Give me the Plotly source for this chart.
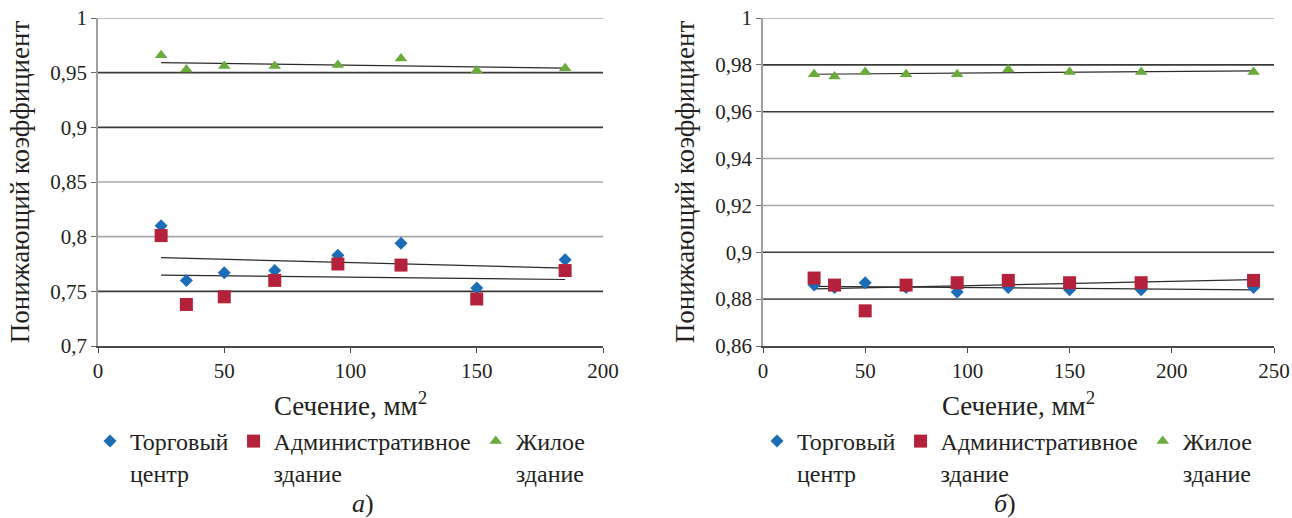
import numpy as np
import plotly.graph_objects as go

# ---------------- data ----------------
sections_a = [25, 35, 50, 70, 95, 120, 150, 185]
trade_a = [0.810, 0.760, 0.767, 0.769, 0.783, 0.794, 0.753, 0.779]
admin_a = [0.801, 0.738, 0.745, 0.760, 0.775, 0.774, 0.743, 0.769]
living_a = [0.966, 0.953, 0.956, 0.956, 0.957, 0.963, 0.952, 0.954]

sections_b = [25, 35, 50, 70, 95, 120, 150, 185, 240]
trade_b = [0.886, 0.885, 0.887, 0.885, 0.883, 0.885, 0.884, 0.884, 0.885]
admin_b = [0.889, 0.886, 0.875, 0.886, 0.887, 0.888, 0.887, 0.887, 0.888]
living_b = [0.976, 0.975, 0.977, 0.976, 0.976, 0.978, 0.977, 0.977, 0.977]

series_names = ["Торговый<br>центр", "Административное<br>здание", "Жилое<br>здание"]

yticks_a = [0.7, 0.75, 0.8, 0.85, 0.9, 0.95, 1.0]
yticklabels_a = ["0,7", "0,75", "0,8", "0,85", "0,9", "0,95", "1"]
yticks_b = [0.86, 0.88, 0.9, 0.92, 0.94, 0.96, 0.98, 1.0]
yticklabels_b = ["0,86", "0,88", "0,9", "0,92", "0,94", "0,96", "0,98", "1"]
xticks_a = [0, 50, 100, 150, 200]
xticks_b = [0, 50, 100, 150, 200, 250]

x_title = "Сечение, мм<sup>2</sup>"
y_title = "Понижающий коэффициент"
panel_labels = ["<i>а</i>)", "<i>б</i>)"]

# ---------------- styles ----------------
FONT = "Liberation Serif"
TXT = "#231f20"
marker_styles = [
    dict(symbol="diamond", color="#1b6db5", size=10),
    dict(symbol="square", color="#b4213b", size=13),
    dict(symbol="triangle-up", color="#6aab3b", size=11),
]
DARK_GRID = "#3a3a3a"
LIGHT_GRID = "#a8a8a8"
grid_a_colors = [None, DARK_GRID, LIGHT_GRID, LIGHT_GRID, DARK_GRID, DARK_GRID, LIGHT_GRID]
grid_b_colors = [None, "#5a5a5a", DARK_GRID, LIGHT_GRID, LIGHT_GRID, DARK_GRID, DARK_GRID, LIGHT_GRID]

W, H = 1292, 518
def px_x(p):
    return p / W
def px_y(p):
    return 1 - p / H

fig = go.Figure()

panels = [
    dict(xs=sections_a, ys=[trade_a, admin_a, living_a], xa="x", ya="y", legend="legend"),
    dict(xs=sections_b, ys=[trade_b, admin_b, living_b], xa="x2", ya="y2", legend="legend2"),
]

for p in panels:
    xs = np.array(p["xs"], dtype=float)
    for ys in p["ys"]:
        k, b = np.polyfit(xs, np.array(ys), 1)
        xline = [xs.min(), xs.max()]
        fig.add_trace(go.Scatter(
            x=xline, y=[k * v + b for v in xline], mode="lines",
            line=dict(color="#2b2b2b", width=1.2),
            xaxis=p["xa"], yaxis=p["ya"], showlegend=False, hoverinfo="skip"))
    for name, ys, ms in zip(series_names, p["ys"], marker_styles):
        fig.add_trace(go.Scatter(
            x=p["xs"], y=ys, mode="markers", name=name,
            marker=dict(symbol=ms["symbol"], color=ms["color"], size=ms["size"], line=dict(width=0)),
            xaxis=p["xa"], yaxis=p["ya"], legend=p["legend"]))

shapes = []
for ref, ticks, colors in [("y", yticks_a, grid_a_colors), ("y2", yticks_b, grid_b_colors)]:
    xref = "x domain" if ref == "y" else "x2 domain"
    for t, c in zip(ticks, colors):
        if c is None:
            continue
        shapes.append(dict(type="line", xref=xref, yref=ref, x0=0, x1=1, y0=t, y1=t,
                           line=dict(color=c, width=1.6), layer="below"))

axis_common = dict(
    showgrid=False, zeroline=False, showline=True, ticks="outside", ticklen=5,
    automargin=False, ticklabeloverflow="allow",
    tickfont=dict(family=FONT, size=21, color=TXT),
)
title_font = dict(family=FONT, size=27, color=TXT)
legend_font = dict(family=FONT, size=24, color=TXT)

fig.update_layout(
    width=W, height=H,
    margin=dict(l=0, r=0, t=0, b=0, autoexpand=False),
    paper_bgcolor="white", plot_bgcolor="white",
    font=dict(family=FONT, color=TXT),
    xaxis=dict(domain=[px_x(98), px_x(603)], range=[0, 200], tickvals=xticks_a,
               linecolor="#4a4a4a", linewidth=1.6, tickcolor="#4a4a4a", anchor="y",
               title=dict(text=x_title, font=title_font, standoff=14),
               **axis_common),
    yaxis=dict(domain=[px_y(346), px_y(18)], range=[0.7, 1.0], tickvals=yticks_a,
               ticktext=yticklabels_a, linecolor="#a0a0a0", linewidth=1.6, tickcolor="#6a6a6a",
               anchor="x",
               title=dict(text=y_title, font=title_font, standoff=13),
               **axis_common),
    xaxis2=dict(domain=[px_x(763), px_x(1274)], range=[0, 250], tickvals=xticks_b,
                linecolor="#4a4a4a", linewidth=1.6, tickcolor="#4a4a4a", anchor="y2",
                title=dict(text=x_title, font=title_font, standoff=14),
                **axis_common),
    yaxis2=dict(domain=[px_y(346), px_y(18)], range=[0.86, 1.0], tickvals=yticks_b,
                ticktext=yticklabels_b, linecolor="#a0a0a0", linewidth=1.6, tickcolor="#6a6a6a",
                anchor="x2",
                title=dict(text=y_title, font=title_font, standoff=13),
                **axis_common),
    legend=dict(orientation="h", x=px_x(90), xanchor="left", y=px_y(419), yanchor="top",
                valign="top", font=legend_font,
                bgcolor="rgba(0,0,0,0)", tracegroupgap=0),
    legend2=dict(orientation="h", x=px_x(757), xanchor="left", y=px_y(419), yanchor="top",
                 valign="top", font=legend_font,
                 bgcolor="rgba(0,0,0,0)", tracegroupgap=0),
    shapes=shapes,
    annotations=[
        dict(text=panel_labels[0], x=px_x(350), y=px_y(520), xref="paper", yref="paper",
             showarrow=False, font=dict(family=FONT, size=26, color=TXT)),
        dict(text=panel_labels[1], x=px_x(1018), y=px_y(520), xref="paper", yref="paper",
             showarrow=False, font=dict(family=FONT, size=26, color=TXT)),
    ],
)

# remove the page's default body margin so the 1292x518 figure fills the window exactly
page_css = ("document.body.style.margin='0';"
            "document.documentElement.style.overflow='hidden';"
            "document.body.style.overflow='hidden';")

fig.write_html("out.html", post_script=page_css, config={"displayModeBar": False})
